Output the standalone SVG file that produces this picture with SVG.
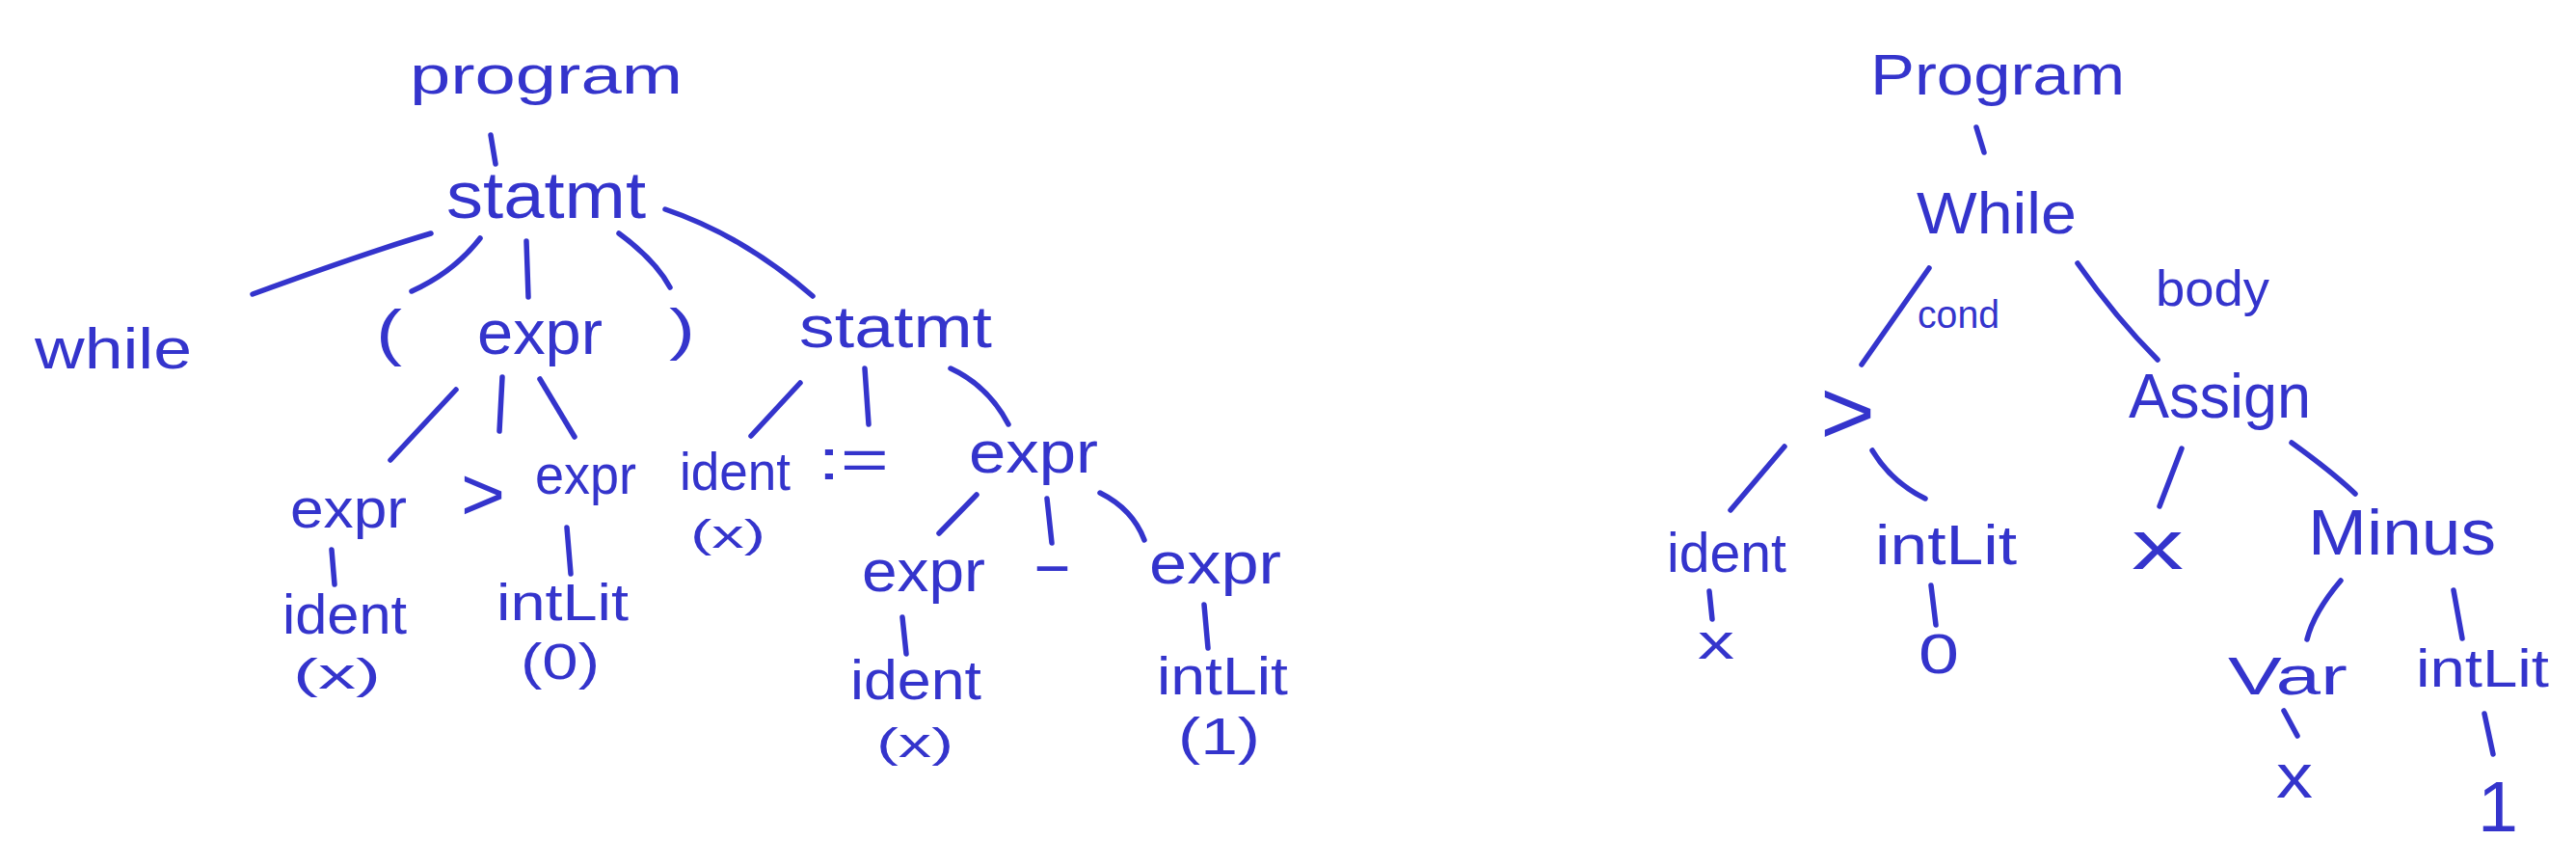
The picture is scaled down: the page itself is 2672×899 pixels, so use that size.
<svg xmlns="http://www.w3.org/2000/svg" width="2672" height="899" viewBox="0 0 2672 899">
<style>
text{font-family:"Liberation Sans","DejaVu Sans",sans-serif;fill:#3434cc;}
.c path,.c line{stroke:#3434cc;stroke-width:5.5;fill:none;stroke-linecap:round;}
</style>
<rect width="2672" height="899" fill="#ffffff"/>
<g class="c" id="connectors">
<line x1="509" y1="140" x2="514" y2="170"/>
<path d="M447 242 Q380 262 262 305"/>
<path d="M498 247 Q471 282 427 302"/>
<line x1="546" y1="250" x2="548" y2="308"/>
<path d="M642 242 Q680 270 695 298"/>
<path d="M690 217 Q770 244 843 307"/>
<line x1="473" y1="404" x2="405" y2="477"/>
<line x1="521" y1="391" x2="518" y2="447"/>
<line x1="560" y1="393" x2="596" y2="453"/>
<line x1="830" y1="397" x2="779" y2="452"/>
<line x1="897" y1="382" x2="901" y2="440"/>
<path d="M986 382 Q1025 400 1046 440"/>
<line x1="344" y1="570" x2="347" y2="606"/>
<line x1="588" y1="547" x2="592" y2="595"/>
<line x1="1013" y1="513" x2="974" y2="553"/>
<line x1="1086" y1="517" x2="1091" y2="563"/>
<path d="M1141 511 Q1175 528 1187 560"/>
<line x1="936" y1="640" x2="940" y2="678"/>
<line x1="1249" y1="627" x2="1253" y2="672"/>
<line x1="2050" y1="132" x2="2058" y2="158"/>
<line x1="2001" y1="278" x2="1931" y2="378"/>
<path d="M2155 273 Q2195 330 2238 373"/>
<line x1="1851" y1="463" x2="1795" y2="529"/>
<path d="M1942 467 Q1962 500 1997 517"/>
<line x1="2263" y1="465" x2="2240" y2="525"/>
<path d="M2377 459 Q2420 490 2443 512"/>
<line x1="1773" y1="613" x2="1776" y2="642"/>
<line x1="2003" y1="607" x2="2008" y2="648"/>
<path d="M2428 602 Q2400 635 2393 663"/>
<line x1="2545" y1="612" x2="2554" y2="662"/>
<line x1="2369" y1="737" x2="2383" y2="763"/>
<line x1="2577" y1="740" x2="2586" y2="782"/>
</g>
<g id="l-program"><text x="425" y="97" font-size="55" textLength="283" lengthAdjust="spacingAndGlyphs">program</text></g>
<g id="l-statmt"><text x="463" y="226" font-size="68" textLength="207" lengthAdjust="spacingAndGlyphs">statmt</text></g>
<g id="l-while"><text x="36" y="382" font-size="60" textLength="163" lengthAdjust="spacingAndGlyphs">while</text></g>
<g id="l-lparen"><text x="390" y="367" font-size="64" textLength="27" lengthAdjust="spacingAndGlyphs">(</text></g>
<g id="l-expr1"><text x="495" y="367" font-size="64" textLength="130" lengthAdjust="spacingAndGlyphs">expr</text></g>
<g id="l-rparen"><text x="694" y="362" font-size="60" textLength="27" lengthAdjust="spacingAndGlyphs">)</text></g>
<g id="l-statmt2"><text x="829" y="360" font-size="62" textLength="200" lengthAdjust="spacingAndGlyphs">statmt</text></g>
<g id="l-expr2"><text x="301" y="547" font-size="58" textLength="121" lengthAdjust="spacingAndGlyphs">expr</text></g>
<g id="l-gt"><text x="478" y="539" font-size="78" textLength="46" lengthAdjust="spacingAndGlyphs">&gt;</text></g>
<g id="l-expr3"><text x="555" y="512" font-size="58" textLength="105" lengthAdjust="spacingAndGlyphs">expr</text></g>
<g id="l-ident1"><text x="705" y="508" font-size="56" textLength="115" lengthAdjust="spacingAndGlyphs">ident</text><text x="716" y="568" font-size="40" textLength="78" lengthAdjust="spacingAndGlyphs">(x)</text></g>
<g id="l-assign"><text x="848" y="497" font-size="60" textLength="74" lengthAdjust="spacingAndGlyphs">:=</text></g>
<g id="l-expr4"><text x="1005" y="490" font-size="62" textLength="134" lengthAdjust="spacingAndGlyphs">expr</text></g>
<g id="l-ident2"><text x="293" y="657" font-size="58" textLength="129" lengthAdjust="spacingAndGlyphs">ident</text><text x="304" y="714" font-size="44" textLength="91" lengthAdjust="spacingAndGlyphs">(x)</text></g>
<g id="l-intlit1"><text x="515" y="643" font-size="54" textLength="137" lengthAdjust="spacingAndGlyphs">intLit</text><text x="540" y="704" font-size="52" textLength="82" lengthAdjust="spacingAndGlyphs">(0)</text></g>
<g id="l-expr5"><text x="894" y="613" font-size="62" textLength="128" lengthAdjust="spacingAndGlyphs">expr</text></g>
<g id="l-minus"><text x="1070" y="605" font-size="60" textLength="43" lengthAdjust="spacingAndGlyphs">-</text></g>
<g id="l-expr6"><text x="1192" y="605" font-size="62" textLength="137" lengthAdjust="spacingAndGlyphs">expr</text></g>
<g id="l-ident3"><text x="882" y="725" font-size="58" textLength="136" lengthAdjust="spacingAndGlyphs">ident</text><text x="909" y="785" font-size="43" textLength="80" lengthAdjust="spacingAndGlyphs">(x)</text></g>
<g id="l-intlit2"><text x="1200" y="720" font-size="56" textLength="136" lengthAdjust="spacingAndGlyphs">intLit</text><text x="1222" y="782" font-size="54" textLength="85" lengthAdjust="spacingAndGlyphs">(1)</text></g>
<g id="r-program"><text x="1940" y="98" font-size="60" textLength="264" lengthAdjust="spacingAndGlyphs">Program</text></g>
<g id="r-while"><text x="1988" y="242" font-size="62" textLength="166" lengthAdjust="spacingAndGlyphs">While</text></g>
<g id="r-cond"><text x="1989" y="340" font-size="40" textLength="85" lengthAdjust="spacingAndGlyphs">cond</text></g>
<g id="r-body"><text x="2236" y="317" font-size="52" textLength="118" lengthAdjust="spacingAndGlyphs">body</text></g>
<g id="r-gt"><text x="1888" y="460" font-size="95" textLength="57" lengthAdjust="spacingAndGlyphs">&gt;</text></g>
<g id="r-assign"><text x="2208" y="433" font-size="64" textLength="189" lengthAdjust="spacingAndGlyphs">Assign</text></g>
<g id="r-ident"><text x="1729" y="593" font-size="58" textLength="124" lengthAdjust="spacingAndGlyphs">ident</text></g>
<g id="r-x0"><text x="1761" y="683" font-size="52" textLength="38" lengthAdjust="spacingAndGlyphs">x</text></g>
<g id="r-intlit1"><text x="1945" y="585" font-size="58" textLength="147" lengthAdjust="spacingAndGlyphs">intLit</text></g>
<g id="r-zero"><text x="1990" y="698" font-size="57" textLength="42" lengthAdjust="spacingAndGlyphs">0</text></g>
<g id="r-x1"><text x="2211" y="590" font-size="72" textLength="54" lengthAdjust="spacingAndGlyphs">x</text></g>
<g id="r-minus"><text x="2394" y="575" font-size="66" textLength="195" lengthAdjust="spacingAndGlyphs">Minus</text></g>
<g id="r-var"><text x="2311" y="720" font-size="55" textLength="124" lengthAdjust="spacingAndGlyphs">Var</text></g>
<g id="r-x2"><text x="2361" y="827" font-size="64" textLength="38" lengthAdjust="spacingAndGlyphs">x</text></g>
<g id="r-intlit2"><text x="2506" y="712" font-size="56" textLength="138" lengthAdjust="spacingAndGlyphs">intLit</text></g>
<g id="r-one"><text x="2570" y="862" font-size="75" textLength="42" lengthAdjust="spacingAndGlyphs">1</text></g>
</svg>
